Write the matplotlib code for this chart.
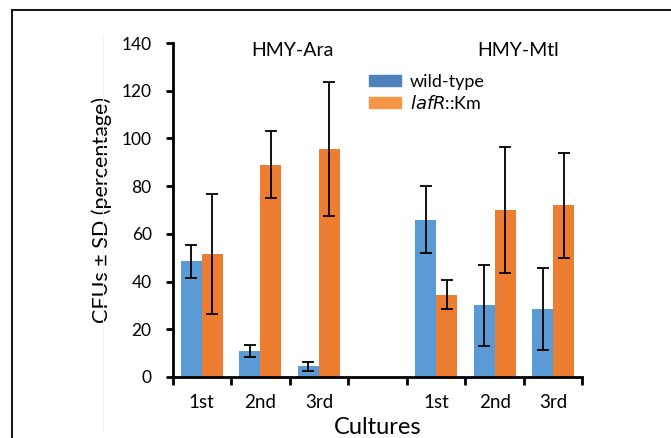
import numpy as np
import matplotlib
matplotlib.use('Agg')
import matplotlib.pyplot as plt
from matplotlib.patches import Patch
from matplotlib.lines import Line2D

plt.rcParams['font.family'] = ['Lato', 'DejaVu Sans']

# data
cultures = ['1st', '2nd', '3rd']
groups = ['HMY-Ara', 'HMY-Mtl']
ara_wt = [48.5, 11.0, 4.5]
ara_wt_sd = [7.0, 2.5, 1.8]
ara_laf = [51.5, 89.0, 95.5]
ara_laf_sd = [25.0, 14.0, 28.0]
mtl_wt = [66.0, 30.0, 28.5]
mtl_wt_sd = [14.0, 17.0, 17.0]
mtl_laf = [34.5, 70.0, 72.0]
mtl_laf_sd = [6.0, 26.5, 22.0]

blue = '#5B9BD5'
orange = '#ED7D31'

fig = plt.figure(figsize=(6.71, 4.38), dpi=100)
ax = fig.add_axes([0.2571, 0.1393, 0.6110, 0.7625])

pos_ara = np.arange(3)
pos_mtl = np.arange(3) + 4
w = 0.36
err_kw = dict(ecolor='black', elinewidth=1.3, capsize=4, capthick=1.3)

ax.bar(pos_ara - w / 2, ara_wt, w, yerr=ara_wt_sd, color=blue, error_kw=err_kw)
ax.bar(pos_ara + w / 2, ara_laf, w, yerr=ara_laf_sd, color=orange, error_kw=err_kw)
ax.bar(pos_mtl - w / 2, mtl_wt, w, yerr=mtl_wt_sd, color=blue, error_kw=err_kw)
ax.bar(pos_mtl + w / 2, mtl_laf, w, yerr=mtl_laf_sd, color=orange, error_kw=err_kw)

ax.set_xlim(-0.5, 6.5)
ax.set_ylim(0, 140)
ax.set_yticks(np.arange(0, 141, 20))
ax.set_xticks(np.arange(-0.5, 7, 1))
ax.set_xticklabels([])
ax.set_xticks(np.concatenate([pos_ara, pos_mtl]), minor=True)
ax.set_xticklabels(cultures + cultures, minor=True)
ax.tick_params(axis='x', which='major', length=6, width=2, direction='out')
ax.tick_params(axis='x', which='minor', length=0, pad=12, labelsize=13.5)
ax.tick_params(axis='y', length=5, width=2, direction='out', pad=10, labelsize=12.5)

for s in ['top', 'right']:
    ax.spines[s].set_visible(False)
for s in ['left', 'bottom']:
    ax.spines[s].set_linewidth(2)

ax.text(1.55, 137, groups[0], ha='center', va='center', fontsize=14)
ax.text(5.4, 137, groups[1], ha='center', va='center', fontsize=14)

handles = [Patch(color='#4F81BD', label='wild-type'),
           Patch(color='#F79646', label='$\\it{lafR}$::Km')]
ax.legend(handles=handles, loc='upper left', bbox_to_anchor=(0.44, 0.955),
          frameon=False, fontsize=13, handlelength=1.75, handleheight=0.55,
          labelspacing=0.22, handletextpad=0.5)

ax.set_ylabel('CFUs \u00b1 SD (percentage)', fontsize=15.5)
ax.yaxis.set_label_coords(-0.148, 0.5)
ax.set_xlabel('Cultures', fontsize=17)
ax.xaxis.set_label_coords(0.5, -0.12)

# outer frame lines
fig.add_artist(Line2D([12 / 671, 1], [1 - 10 / 438] * 2, color='black', lw=1.3))
fig.add_artist(Line2D([12 / 671] * 2, [0, 1 - 10 / 438], color='black', lw=1.3))
fig.add_artist(Line2D([103 / 671] * 2, [1 - 431 / 438, 1 - 35 / 438], color='#f0f0f0', lw=0.8))

fig.savefig('out.png', dpi=100)
